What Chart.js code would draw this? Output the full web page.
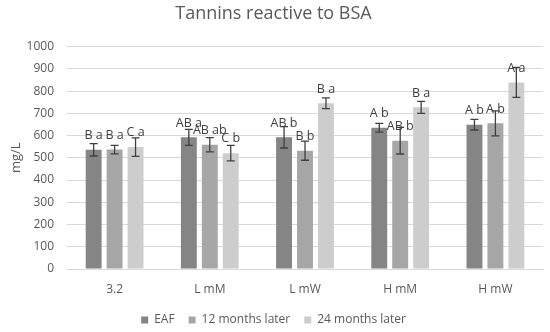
<!DOCTYPE html>
<html><head><meta charset="utf-8">
<script src="https://cdn.jsdelivr.net/npm/chart.js@4"></script>
<style>html,body{margin:0;padding:0;background:#fff}#wrap{width:550px;height:332px}</style>
</head><body><div id="wrap"><canvas id="c" width="550" height="332"></canvas></div>
<script>
const categories = ["3.2", "L mM", "L mW", "H mM", "H mW"];
const seriesNames = ["EAF", "12 months later", "24 months later"];
const eafValues = [536, 592, 592, 635, 649];
const eafErrors = [28, 36, 48, 20, 24];
const eafLabels = ["B a", "AB a", "AB b", "A b", "A b"];
const m12Values = [537, 559, 532, 577, 655];
const m12Errors = [19, 32, 43, 60, 56];
const m12Labels = ["B a", "AB ab", "B b", "AB b", "A b"];
const m24Values = [548, 521, 745, 727, 839];
const m24Errors = [42, 35, 24, 27, 67];
const m24Labels = ["C a", "C b", "B a", "B a", "A a"];
const yTicks = [0, 100, 200, 300, 400, 500, 600, 700, 800, 900, 1000];

const errorsBySeries = [eafErrors, m12Errors, m24Errors];
const labelsBySeries = [eafLabels, m12Labels, m24Labels];
const FONT = "'Open Sans', 'Liberation Sans', sans-serif";

const errPlugin = {
  id: 'errLabels',
  afterDatasetsDraw(chart) {
    const ctx = chart.ctx;
    const ys = chart.scales.y;
    chart.data.datasets.forEach((ds, di) => {
      const meta = chart.getDatasetMeta(di);
      meta.data.forEach((bar, i) => {
        const v = ds.data[i];
        const e = errorsBySeries[di][i];
        const x = bar.x;
        const yt = ys.getPixelForValue(v + e);
        const yb = ys.getPixelForValue(v - e);
        ctx.save();
        ctx.strokeStyle = '#404040';
        ctx.lineWidth = 1.3;
        ctx.beginPath();
        ctx.moveTo(x, yt); ctx.lineTo(x, yb);
        ctx.moveTo(x - 4, yt); ctx.lineTo(x + 4, yt);
        ctx.moveTo(x - 4, yb); ctx.lineTo(x + 4, yb);
        ctx.stroke();
        ctx.fillStyle = '#404040';
        ctx.font = "12.5px " + FONT;
        ctx.textAlign = 'center';
        ctx.textBaseline = 'bottom';
        ctx.fillText(labelsBySeries[di][i], x, ys.getPixelForValue(v) - 8);
        ctx.restore();
      });
    });
  }
};

new Chart(document.getElementById('c'), {
  type: 'bar',
  data: {
    labels: categories,
    datasets: [
      { label: seriesNames[0], data: eafValues, backgroundColor: '#858585' },
      { label: seriesNames[1], data: m12Values, backgroundColor: '#a6a6a6' },
      { label: seriesNames[2], data: m24Values, backgroundColor: '#cdcdcd' }
    ]
  },
  options: {
    responsive: false,
    animation: false,
    devicePixelRatio: 1,
    layout: { padding: { left: 4, right: 7, top: 0, bottom: -4 } },
    datasets: { bar: { categoryPercentage: 0.66, barPercentage: 0.76 } },
    plugins: {
      title: { display: true, text: 'Tannins reactive to BSA', color: '#595959',
               font: { family: FONT, size: 18, weight: 'normal' }, padding: { top: 3, bottom: 22 } },
      legend: { position: 'bottom',
                labels: { color: '#595959', boxWidth: 7, boxHeight: 7, padding: 14,
                          font: { family: FONT, size: 12 } } },
      tooltip: { enabled: false }
    },
    scales: {
      x: {
        afterFit(axis) { axis.height = 31; },
        grid: { display: false, drawTicks: false },
        border: { color: '#d9d9d9' },
        ticks: { color: '#595959', font: { family: FONT, size: 12 }, padding: 13 }
      },
      y: {
        min: 0, max: 1000,
        afterBuildTicks(axis) { axis.ticks = yTicks.map(v => ({ value: v })); },
        afterFit(axis) { axis.width = 63; },
        grid: { color: '#d9d9d9', drawTicks: false },
        border: { display: false },
        ticks: { color: '#595959', font: { family: FONT, size: 12 }, padding: 13,
                 callback: (v) => String(v) },
        title: { display: true, text: 'mg/L', color: '#595959', font: { family: FONT, size: 13 } }
      }
    }
  },
  plugins: [errPlugin]
});
</script></body></html>
